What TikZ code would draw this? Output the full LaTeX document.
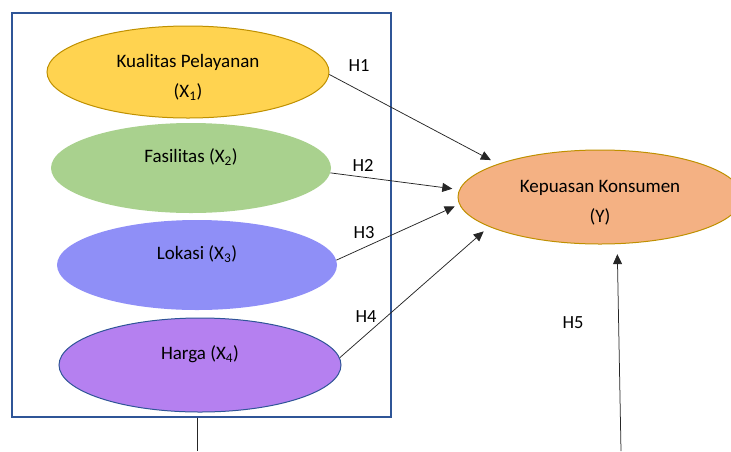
\documentclass[tikz,border=0pt]{standalone}
\usepackage{fontspec}
\setmainfont{Carlito}
\usetikzlibrary{positioning,shapes.geometric,arrows.meta}
\definecolor{kuning}{RGB}{255,211,80}
\definecolor{kuningtepi}{RGB}{191,144,0}
\definecolor{hijau}{RGB}{169,209,142}
\definecolor{ungu}{RGB}{143,143,247}
\definecolor{lila}{RGB}{181,128,240}
\definecolor{jingga}{RGB}{244,177,131}
\definecolor{biru}{RGB}{47,85,151}

\begin{document}
\begin{tikzpicture}[x=1pt,y=-1pt,
    var/.style={ellipse, inner sep=0pt, align=center, text=black,
      font=\fontsize{19}{30}\selectfont},
    lowtext/.style={text depth=24pt},
    hightext/.style={text height=53.5pt},
    hyp/.style={inner sep=0pt, font=\fontsize{18.5}{20}\selectfont},
    conn/.style={draw=black!85, line width=0.75pt},
    arr/.style={conn, -{Triangle[length=10pt,width=9pt]}}]
  \useasboundingbox (0,0) rectangle (731,451);
  % frame round the independent variables
  \node[draw=biru, line width=1.2pt, inner sep=0pt, minimum width=379pt,
    minimum height=404pt] (box) at (201.5,215) {};
  \node[var, hightext, fill=kuning, draw=kuningtepi, line width=1pt,
    minimum width=282pt, minimum height=92pt] (x1) at (188,72)
    {Kualitas Pelayanan\\(X\textsubscript{1})};
  \node[var, lowtext, fill=hijau, minimum width=280pt, minimum height=90pt]
    (x2) at (191,168) {Fasilitas (X\textsubscript{2})};
  \node[var, lowtext, fill=ungu, minimum width=280pt, minimum height=90pt]
    (x3) at (197,265) {Lokasi (X\textsubscript{3})};
  \node[var, lowtext, fill=lila, draw=biru, line width=1pt,
    minimum width=282pt, minimum height=94pt] (x4) at (200,365)
    {Harga (X\textsubscript{4})};
  \node[var, hightext, fill=jingga, draw=kuningtepi, line width=1pt,
    minimum width=284pt, minimum height=94pt] (y) at (600,197)
    {Kepuasan Konsumen\\(Y)};
  % hypotheses
  \node[hyp] (h1) at (359,66) {H1};
  \node[hyp] (h2) at (363,165) {H2};
  \node[hyp] (h3) at (364,233) {H3};
  \node[hyp] (h4) at (366,317) {H4};
  \node[hyp] (h5) at (573,323) {H5};
  \coordinate (h5src) at (621,451);
  \coordinate (boxtail) at (197,451);
  \draw[arr, shorten >=8pt] (x1.359) -- (y.162);
  \draw[arr, shorten >=7pt] (x2.358) -- (y.177);
  \draw[arr, shorten >=5pt] (x3.2) -- (y.183);
  \draw[arr, shorten >=7pt] (x4.3) -- (y.195);
  \draw[arr, shorten >=10pt] (h5src) -- (y.290);
  \draw[conn] (box.south -| boxtail) -- (boxtail);
\end{tikzpicture}
\end{document}
